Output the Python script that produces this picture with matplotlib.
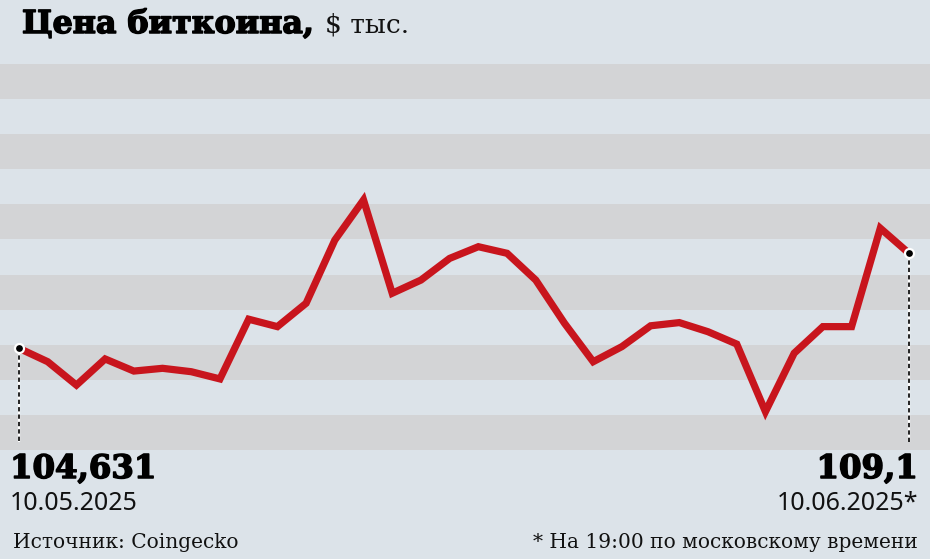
import matplotlib
matplotlib.use("Agg")
import matplotlib.pyplot as plt
from matplotlib.patches import Rectangle
import matplotlib.patheffects as pe

# ---- data (thousand USD, daily 10.05.2025 .. 10.06.2025) ----
days = list(range(32))
prices = [104.631, 104.0, 102.9, 104.13, 103.56, 103.69, 103.53, 103.19,
          106.0, 105.65, 106.75, 109.72, 111.61, 107.22, 107.84, 108.86,
          109.41, 109.10, 107.84, 105.81, 104.0, 104.71, 105.69, 105.84,
          105.41, 104.83, 101.65, 104.40, 105.65, 105.65, 110.28, 109.1]
title_main = "Цена биткоина,"
title_unit = "$ тыс."
start_value = "104,631"
end_value = "109,1"
start_date = "10.05.2025"
end_date = "10.06.2025*"
source = "Источник: Coingecko"
note = "* На 19:00 по московскому времени"

W, H = 930, 559
BG = "#dce3e9"
BAND = "#d3d4d6"
RED = "#c8151d"

fig = plt.figure(figsize=(W / 100, H / 100), dpi=100, facecolor=BG)

def fy(py):
    return 1 - py / H

def fx(px):
    return px / W

top_px, bot_px = 64, 450
ax = fig.add_axes([0, fy(bot_px), 1, (bot_px - top_px) / H])
ax.set_facecolor(BG)
for s in ax.spines.values():
    s.set_visible(False)
ax.set_xticks([])
ax.set_yticks([])

# bands
nb = 11
for i in range(nb):
    if i % 2 == 0:
        y0 = 1 - (i + 1) / nb
        ax.add_patch(Rectangle((0, y0), 1, 1 / nb, transform=ax.transAxes,
                               facecolor=BAND, edgecolor="none", zorder=0))

# scales: x=0 at px 19, x=31 at px 909
step = (909 - 19) / 31
ax.set_xlim(-19 / step, 31 + (W - 909) / step)
ppu = 21.26  # pixels per thousand
y_low = prices[0] - (bot_px - 348.3) / ppu
y_high = prices[0] + (348.3 - top_px) / ppu
ax.set_ylim(y_low, y_high)

ax.plot(days, prices, color=RED, lw=5.2, solid_joinstyle="miter",
        solid_capstyle="butt", zorder=3)

# dashed drop lines
y_end = y_low + (bot_px - 442) / ppu
for i in (0, len(days) - 1):
    ax.plot([days[i], days[i]], [prices[i], y_end], color="white", lw=1.6,
            zorder=2, solid_capstyle="butt")
    ax.plot([days[i], days[i]], [prices[i], y_end], color="#222222", lw=1.4,
            dashes=(2.2, 1.6), zorder=2.5)
    ax.plot(days[i], prices[i], "o", ms=6.5, mfc="black", mec="white",
            mew=1.6, zorder=5)

heavy = [pe.withStroke(linewidth=1.1, foreground="black")]

# texts
t1 = fig.text(fx(22), fy(33), title_main, fontsize=22.8, fontweight="bold",
              family="DejaVu Serif", color="black", va="baseline", ha="left",
              path_effects=heavy)
fig.canvas.draw()
bb = t1.get_window_extent()
fig.text((bb.x1 + 11) / W, fy(33), title_unit, fontsize=19,
         family="DejaVu Serif", color="#111111", va="baseline", ha="left")

fig.text(fx(10), fy(478), start_value, fontsize=23.3, fontweight="bold",
         family="DejaVu Serif", va="baseline", ha="left", path_effects=heavy)
fig.text(fx(918), fy(478), end_value, fontsize=23.3, fontweight="bold",
         family="DejaVu Serif", va="baseline", ha="right", path_effects=heavy)
fig.text(fx(10), fy(510), start_date, fontsize=18, family="Noto Sans",
         va="baseline", ha="left", color="#111111")
fig.text(fx(918), fy(510), end_date, fontsize=18, family="Noto Sans",
         va="baseline", ha="right", color="#111111")
fig.text(fx(13), fy(548), source, fontsize=14.5, family="DejaVu Serif",
         va="baseline", ha="left", color="#111111")
fig.text(fx(918), fy(548), note, fontsize=14.5, family="DejaVu Serif",
         va="baseline", ha="right", color="#111111")

fig.savefig("out.png", dpi=100, facecolor=BG)
